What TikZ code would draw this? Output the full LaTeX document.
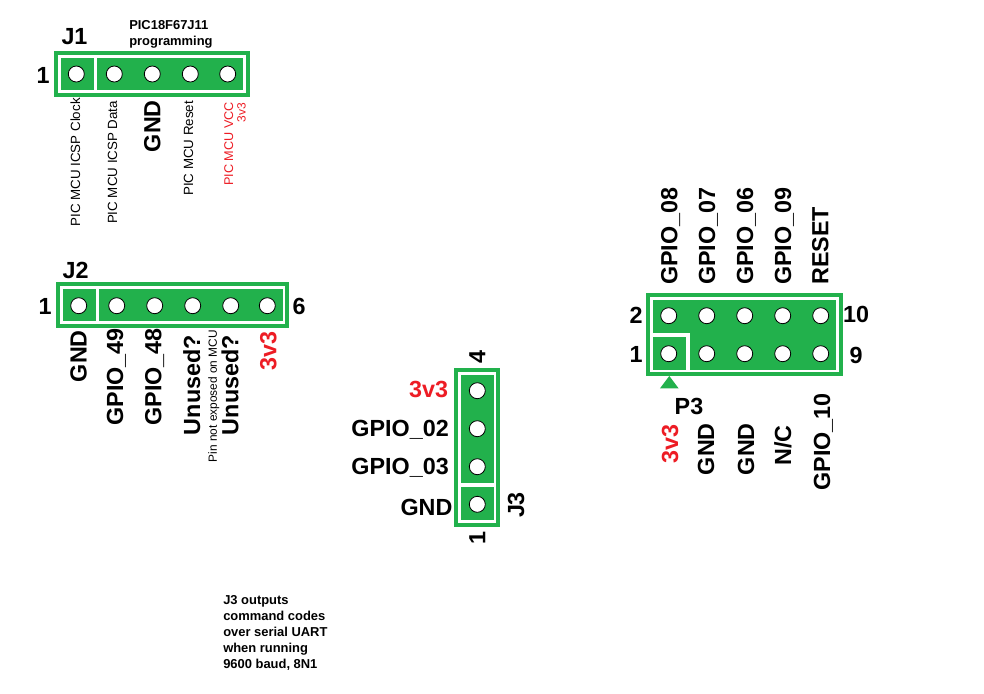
\documentclass[tikz,border=0pt]{standalone}
\usepackage{fontspec}
\setmainfont{Liberation Sans}
\usetikzlibrary{shapes.geometric}
\definecolor{pcbgreen}{HTML}{22B14C}
\definecolor{netred}{HTML}{ED1C24}

\begin{document}
\begin{tikzpicture}[
            x=0.75pt, y=-0.75pt,
            board/.style={draw=pcbgreen, fill=pcbgreen, line width=3pt, double=white, double distance=1.9pt, inner sep=0pt},
            pad/.style={circle, draw=black, fill=white, line width=0.6pt, minimum size=12pt, inner sep=0pt},
            pinmark/.style={white, line width=2.5pt},
            num/.style={font=\fontsize{17.5}{20}\selectfont\bfseries, inner sep=0pt, text height=12.6pt, text depth=0pt},
            net/.style={num, rotate=90, anchor=east},
            nettop/.style={num, rotate=90, anchor=west},
            netleft/.style={num, anchor=east},
            tiny/.style={font=\fontsize{10}{12}\selectfont, inner sep=0pt, text height=7.2pt, text depth=0pt, rotate=90, anchor=east},
            note/.style={font=\fontsize{9.7}{12}\selectfont\bfseries, inner sep=0pt, align=left, anchor=north west}
        ]
        \useasboundingbox (0,0) rectangle (984,693);

        % J1
        \node[board, minimum width=139pt, minimum height=26.5pt] (j1) at (152,74) {};
        \draw[pinmark] (95.5,55) -- (95.5,93);
        \node[pad] (j1a) at (76.3,74) {};
        \node[pad] (j1b) at (114.3,74) {};
        \node[pad] (j1c) at (152.3,74) {};
        \node[pad] (j1d) at (190.3,74) {};
        \node[pad] (j1e) at (227.7,74) {};
        \node[num] (j1name) at (74.5,36) {J1};
        \node[num] (j1one) at (43,75) {1};
        \node[note] (j1note) at (129,20) {PIC18F67J11\\programming};
        \node[tiny] (j1clk) at (75.3,98) {PIC MCU ICSP Clock};
        \node[tiny] (j1dat) at (112.3,100.7) {PIC MCU ICSP Data};
        \node[net] (j1gnd) at (152,100) {GND};
        \node[tiny] (j1rst) at (188.3,100.7) {PIC MCU Reset};
        \node[tiny, text=netred, font=\fontsize{9.5}{12}\selectfont] (j1vcc) at (228.3,101.7) {PIC MCU VCC};
        \node[tiny, text=netred, font=\fontsize{9}{10}\selectfont] (j1volt) at (240.7,102.7) {3v3};

        % J2
        \node[board, minimum width=167pt, minimum height=26.3pt] (j2) at (172.7,305) {};
        \draw[pinmark] (97.7,286.3) -- (97.7,323.7);
        \node[pad] (j2a) at (78.7,305.7) {};
        \node[pad] (j2b) at (116.7,305.7) {};
        \node[pad] (j2c) at (154.7,305.7) {};
        \node[pad] (j2d) at (192.7,305.7) {};
        \node[pad] (j2e) at (230.7,305.7) {};
        \node[pad] (j2f) at (267.3,305.7) {};
        \node[num] (j2name) at (75.7,270) {J2};
        \node[num] (j2one) at (45,306.3) {1};
        \node[num] (j2six) at (299,306.3) {6};
        \node[net] (j2gnd) at (78.3,330) {GND};
        \node[net] (j2io49) at (114.7,328) {GPIO\_49};
        \node[net] (j2io48) at (153,328) {GPIO\_48};
        \node[net] (j2una) at (191.7,335) {Unused?};
        \node[tiny, font=\fontsize{8.9}{12}\selectfont] (j2pin) at (212,330) {Pin not exposed on MCU};
        \node[net] (j2unb) at (230,335) {Unused?};
        \node[net, text=netred] (j2volt) at (268,331) {3v3};

        % J3
        \node[board, minimum width=26.4pt, minimum height=111pt] (j3) at (477.2,447.5) {};
        \draw[pinmark] (458.5,485) -- (495.9,485);
        \node[pad] (j3d) at (477.3,390.7) {};
        \node[pad] (j3c) at (477.3,428.7) {};
        \node[pad] (j3b) at (477.3,466.7) {};
        \node[pad] (j3a) at (477.3,504.3) {};
        \node[num, rotate=90] (j3four) at (477,356.7) {4};
        \node[num, rotate=90] (j3one) at (477,538) {1};
        \node[num, rotate=90] (j3name) at (515.8,505) {J3};
        \node[netleft, text=netred] (j3volt) at (448.3,389.5) {3v3};
        \node[netleft] (j3io2) at (449,428.3) {GPIO\_02};
        \node[netleft] (j3io3) at (449,466.5) {GPIO\_03};
        \node[netleft] (j3gnd) at (452.7,507) {GND};
        \node[note] (j3note) at (223,595) {J3 outputs\\command codes\\over serial UART\\when running\\9600 baud, 8N1};

        % P3
        \node[board, minimum width=139.6pt, minimum height=54.2pt] (p3) at (744.3,334.7) {};
        \draw[pinmark] (650.2,335) -- (688,335) -- (688,371.9);
        \node[pad] (p3b) at (668.7,315.7) {};
        \node[pad] (p3d) at (706.7,315.7) {};
        \node[pad] (p3f) at (744.7,315.7) {};
        \node[pad] (p3h) at (782.7,315.7) {};
        \node[pad] (p3k) at (820.7,315.7) {};
        \node[pad] (p3a) at (668.7,353.7) {};
        \node[pad] (p3c) at (706.7,353.7) {};
        \node[pad] (p3e) at (744.7,353.7) {};
        \node[pad] (p3g) at (782.7,353.7) {};
        \node[pad] (p3j) at (820.7,353.7) {};
        \node[isosceles triangle, shape border rotate=90, isosceles triangle apex angle=74, fill=pcbgreen, inner sep=0pt, minimum width=14pt, minimum height=9pt] (p3mark) at (669.3,383.7) {};
        \node[num] (p3name) at (689,405.7) {P3};
        \node[num] (p3two) at (636,315.3) {2};
        \node[num] (p3one) at (636,353.7) {1};
        \node[num] (p3ten) at (856,314.3) {10};
        \node[num] (p3nine) at (856,355.3) {9};
        \node[nettop] (p3io8) at (669,285) {GPIO\_08};
        \node[nettop] (p3io7) at (706.7,285) {GPIO\_07};
        \node[nettop] (p3io6) at (744.7,285) {GPIO\_06};
        \node[nettop] (p3io9) at (782.7,285) {GPIO\_09};
        \node[nettop] (p3rst) at (820,285) {RESET};
        \node[net, text=netred] (p3volt) at (669.7,424) {3v3};
        \node[net] (p3gnda) at (705.7,423) {GND};
        \node[net] (p3gndb) at (745.7,423) {GND};
        \node[net] (p3nc) at (782.7,425) {N/C};
        \node[net] (p3io10) at (821.7,393) {GPIO\_10};
    \end{tikzpicture}
\end{document}
